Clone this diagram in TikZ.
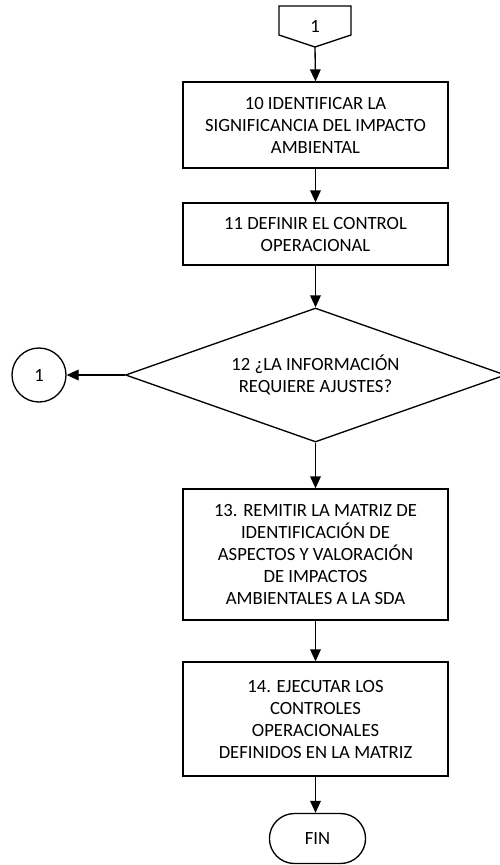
\documentclass[tikz,border=0pt]{standalone}
\usepackage{fontspec}
\setmainfont{Carlito}
\usetikzlibrary{shapes.geometric,shapes.misc,arrows.meta}
\begin{document}
\begin{tikzpicture}[x=0.75pt,y=-0.75pt,
  every node/.style={font=\fontsize{14}{16.5}\selectfont},
  box/.style={draw,line width=1pt,align=center,minimum width=198.75pt,inner sep=2pt},
  flow/.style={line width=1pt,-{Triangle[width=8pt,length=9pt]}},
  ln/.style={line width=1pt}]
\fill[white] (0,0) rectangle (500,865);
\useasboundingbox (0,0) rectangle (500,865);
% off-page connector
\draw[ln] (279,6) -- (351,6) -- (351,35) -- (315,47) -- (279,35) -- cycle;
\node (opc) at (315,26) {1};
\coordinate (opcb) at (315,47);
\node[box,minimum height=64.5pt] (b10) at (315.5,125) {10 IDENTIFICAR LA\\SIGNIFICANCIA DEL IMPACTO\\AMBIENTAL};
\node[box,minimum height=46.5pt] (b11) at (315.5,234) {11 DEFINIR EL CONTROL\\OPERACIONAL};
\node[draw,ln,diamond,aspect=2.84,inner sep=0pt,minimum width=285pt,minimum height=100.5pt,align=center] (d12) at (315.5,375) {12 ¿LA INFORMACIÓN\\REQUIERE AJUSTES?};
\node[draw,ln,circle,minimum size=40.5pt,inner sep=0pt] (c1) at (39,375) {1};
\node[box,minimum height=98.25pt] (b13) at (315.5,554.5) {13. REMITIR LA MATRIZ DE\\IDENTIFICACIÓN DE\\ASPECTOS Y VALORACIÓN\\DE IMPACTOS\\AMBIENTALES A LA SDA};
\node[box,minimum height=85.5pt] (b14) at (315.5,719) {14. EJECUTAR LOS\\CONTROLES\\OPERACIONALES\\DEFINIDOS EN LA MATRIZ};
\node[draw,ln,rounded rectangle,minimum width=78.75pt,minimum height=37.5pt] (fin) at (317.5,838.5) {FIN};
\draw[flow] (opcb) -- (b10.north);
\draw[flow] (b10) -- (b11);
\draw[flow] (b11) -- (d12.north);
\draw[flow] (d12.west) -- (c1);
\draw[flow] (d12.south) -- (b13);
\draw[flow] (b13) -- (b14);
\draw[flow] (b14.south) -- (b14.south |- fin.north);
\end{tikzpicture}
\end{document}
